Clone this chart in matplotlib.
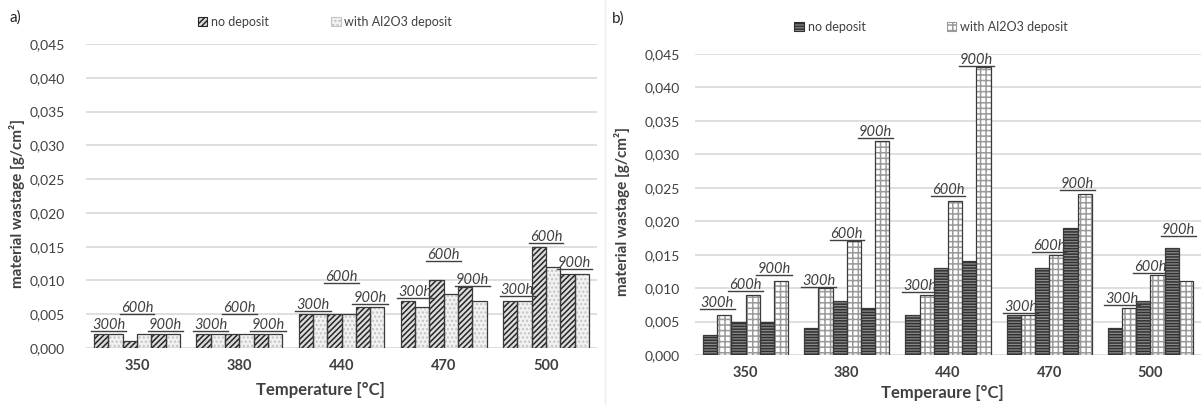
import matplotlib
matplotlib.use("Agg")
import matplotlib.pyplot as plt
import numpy as np
from matplotlib.patches import Patch
from matplotlib.lines import Line2D
from matplotlib.transforms import IdentityTransform
from matplotlib.ticker import FuncFormatter, MultipleLocator

plt.rcParams["font.family"] = ["Lato", "DejaVu Sans"]
plt.rcParams["hatch.linewidth"] = 1.1

temps = ["350", "380", "440", "470", "500"]
durations = ["300h", "600h", "900h"]

# panel a) wastage, g/cm2, per temperature: 300h, 600h, 900h
a_no_deposit = [[0.002, 0.001, 0.002],
                [0.002, 0.002, 0.002],
                [0.005, 0.005, 0.006],
                [0.007, 0.010, 0.009],
                [0.007, 0.015, 0.011]]
a_with_al2o3 = [[0.002, 0.002, 0.002],
                [0.002, 0.002, 0.002],
                [0.005, 0.005, 0.006],
                [0.006, 0.008, 0.007],
                [0.007, 0.012, 0.011]]
a_label_heights = [[0.0034, 0.0059, 0.0034],
                   [0.0034, 0.0059, 0.0034],
                   [0.0064, 0.0105, 0.0074],
                   [0.0083, 0.0138, 0.0101],
                   [0.0086, 0.0164, 0.0126]]

# panel b)
b_no_deposit = [[0.003, 0.005, 0.005],
                [0.004, 0.008, 0.007],
                [0.006, 0.013, 0.014],
                [0.006, 0.013, 0.019],
                [0.004, 0.008, 0.016]]
b_with_al2o3 = [[0.006, 0.009, 0.011],
                [0.010, 0.017, 0.032],
                [0.009, 0.023, 0.043],
                [0.006, 0.015, 0.024],
                [0.007, 0.012, 0.011]]
b_label_heights = [[0.0077, 0.0104, 0.0129],
                   [0.0111, 0.0181, 0.0334],
                   [0.0103, 0.0247, 0.0441],
                   [0.0072, 0.0163, 0.0255],
                   [0.0083, 0.0132, 0.0187]]

W, H = 1203, 405
fig = plt.figure(figsize=(W / 100, H / 100), dpi=100)


def px_axes(x0, y0, x1, y1):
    return fig.add_axes([x0 / W, 1 - y1 / H, (x1 - x0) / W, (y1 - y0) / H])


ax_a = px_axes(86, 44, 597, 348)
ax_b = px_axes(695, 54, 1201, 355)

styles = {
    "a": (dict(facecolor="#dcdcdc", edgecolor="#262626", hatch="//////"),
          dict(facecolor="#f2f2f2", edgecolor="#c4c4c4", hatch="....")),
    "b": (dict(facecolor="#8a8a8a", edgecolor="#303030", hatch="------"),
          dict(facecolor="#ffffff", edgecolor="#9a9a9a", hatch="+++")),
}
outline = {"a": "#3a3a3a", "b": "#3a3a3a"}

bar_w = 0.14
comma = FuncFormatter(lambda v, p: f"{v:.3f}".replace(".", ","))
labels_to_underline = []


def draw_panel(ax, key, no_dep, with_dep, label_h, ypad):
    x = np.arange(len(temps))
    st_no, st_with = styles[key]
    for j in range(3):
        off_no = (2 * j - 2.5) * bar_w
        off_with = (2 * j - 1.5) * bar_w
        v_no = [row[j] for row in no_dep]
        v_with = [row[j] for row in with_dep]
        ax.bar(x + off_no, v_no, bar_w, linewidth=0, zorder=3, **st_no)
        ax.bar(x + off_no, v_no, bar_w, fill=False, edgecolor=outline[key],
               linewidth=0.9, zorder=4)
        ax.bar(x + off_with, v_with, bar_w, linewidth=0, zorder=3, **st_with)
        ax.bar(x + off_with, v_with, bar_w, fill=False, edgecolor=outline[key],
               linewidth=0.9, zorder=4)
        for i in range(len(temps)):
            t = ax.text(x[i] + (2 * j - 2) * bar_w, label_h[i][j], durations[j],
                        ha="center", va="center", fontsize=10.5, style="italic",
                        color="#404040", zorder=5)
            labels_to_underline.append(t)
    ax.set_xlim(-0.5, len(temps) - 0.5)
    ax.set_ylim(0, 0.045)
    ax.yaxis.set_major_locator(MultipleLocator(0.005))
    ax.yaxis.set_major_formatter(comma)
    ax.set_xticks(x)
    ax.set_xticklabels(temps, fontweight="bold", fontsize=10.5, color="#404040")
    ax.grid(axis="y", color="#d9d9d9", linewidth=1.2, zorder=0)
    ax.set_axisbelow(True)
    for s in ax.spines.values():
        s.set_visible(False)
    ax.tick_params(axis="y", length=0, pad=ypad, labelsize=10, labelcolor="#404040")
    ax.tick_params(axis="x", length=0, pad=8)


draw_panel(ax_a, "a", a_no_deposit, a_with_al2o3, a_label_heights, 15)
draw_panel(ax_b, "b", b_no_deposit, b_with_al2o3, b_label_heights, 11)

# axis titles
ylab = "material wastage [g/cm²]"
fig.text(17 / W, 1 - 204 / H, ylab, rotation=90, ha="center", va="center",
         fontsize=11, fontweight="bold", color="#404040")
fig.text(622 / W, 1 - 212 / H, ylab, rotation=90, ha="center", va="center",
         fontsize=11, fontweight="bold", color="#404040")
fig.text(320 / W, 1 - 390 / H, "Temperature [°C]", ha="center", va="center",
         fontsize=12, fontweight="bold", color="#404040")
fig.text(942 / W, 1 - 393 / H, "Temperaure [°C]", ha="center", va="center",
         fontsize=12, fontweight="bold", color="#404040")

# panel letters
fig.text(10 / W, 1 - 18 / H, "a)", ha="left", va="center", fontsize=11, color="#222222")
fig.text(612 / W, 1 - 19 / H, "b)", ha="left", va="center", fontsize=11, color="#222222")

# legends
for key, cx, cy, gap in (("a", 325, 22, 5.0), ("b", 931, 27, 6.5)):
    st_no, st_with = styles[key]
    handles = [Patch(label="no deposit", linewidth=0.8, **st_no),
               Patch(label="with Al2O3 deposit", linewidth=0.8, **st_with)]
    fig.legend(handles=handles, loc="center", bbox_to_anchor=(cx / W, 1 - cy / H),
               ncol=2, frameon=False, fontsize=9, handlelength=0.75, handleheight=0.75,
               handletextpad=0.3, columnspacing=gap, labelcolor="#404040")

# faint divider between the panels
fig.add_artist(Line2D([605 / W, 605 / W], [0.0, 1.0], color="#eeeeee", linewidth=1))

# underline the duration labels
fig.canvas.draw()
renderer = fig.canvas.get_renderer()
for t in labels_to_underline:
    bb = t.get_window_extent(renderer)
    fig.add_artist(Line2D([bb.x0 - 1, bb.x1 + 1], [bb.y0 + 1, bb.y0 + 1],
                          transform=IdentityTransform(), color="#404040",
                          linewidth=1.0, zorder=6))

fig.savefig("out.png", dpi=100)
